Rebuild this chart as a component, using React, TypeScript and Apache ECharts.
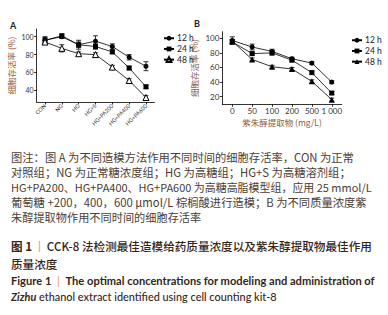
import React, { useEffect, useRef } from "react";
import * as echarts from "echarts";

// Panel A
const catsA = ["CON", "NG", "HG", "HG+S", "HG+PA200", "HG+PA400", "HG+PA600"];
const a12 = [96, 100, 91, 95, 89, 77, 67];
const a24 = [96, 101, 91, 89, 83, 65, 44];
const a48 = [94, 87, 81, 80, 66, 51, 32];
const a12Err = [4, 2, 5, 6, 3, 3, 5];
const a24Err = [3, 2, 3, 3, 2, 2, 2];
const a48Err = [2, 4, 2, 2, 2, 2, 2];
const ticksA = [40, 60, 80, 100];

// Panel B
const catsB = ["0", "50", "100", "200", "500", "1 000"];
const b12 = [97, 88, 82, 72, 66, 40];
const b24 = [95, 79, 80, 70, 53, 25];
const b48 = [96, 71, 61, 58, 41, 16];
const b12Err = [5, 4, 3, 2, 2, 2];
const b24Err = [3, 2, 3, 2, 2, 2];
const b48Err = [2, 2, 2, 2, 2, 2];
const ticksB = [20, 40, 60, 80, 100];

const seriesNames = ["12 h", "24 h", "48 h"];
const yTitle = "细胞存活率 (%)";
const xTitleB = "紫朱醇提取物 (mg/L)";

const noteLines = [
  "图注：图 A 为不同造模方法作用不同时间的细胞存活率，CON 为正常",
  "对照组；NG 为正常糖浓度组；HG 为高糖组；HG+S 为高糖溶剂组；",
  "HG+PA200、HG+PA400、HG+PA600 为高糖高脂模型组，应用 25 mmol/L",
  "葡萄糖 +200，400，600 μmol/L 棕榈酸进行造模；B 为不同质量浓度紫",
  "朱醇提取物作用不同时间的细胞存活率",
];
// target right edges of the justified lines (layout)
const noteRight = [375, 370, 372, 375, 0];

const CJK = '"Noto Sans CJK SC", "Noto Sans", sans-serif';
const LAT = 'Lato, "Noto Sans CJK SC", sans-serif';

function measure(text: string, size: number, family: string, weight = "normal", style = "normal") {
  const c = document.createElement("canvas").getContext("2d");
  if (!c) return text.length * size;
  c.font = `${style} ${weight} ${size}px ${family}`;
  return c.measureText(text).width;
}

function fitSize(text: string, target: number, family: string, base: number, lo: number, hi: number, weight = "normal") {
  const w = measure(text, base, family, weight);
  const s = (base * target) / w;
  return Math.max(lo, Math.min(hi, s));
}

function errSeries(name: string, vals: number[], errs: number[], axis: number) {
  return {
    name: name + "-err",
    type: "custom",
    xAxisIndex: axis,
    yAxisIndex: axis,
    z: 1,
    silent: true,
    data: vals.map((v, i) => [i, v - errs[i], v + errs[i]]),
    renderItem: (params: any, api: any) => {
      const lo = api.coord([api.value(0), api.value(1)]);
      const hi = api.coord([api.value(0), api.value(2)]);
      const w = 2.5;
      const st = { stroke: "#000", lineWidth: 0.8 };
      return {
        type: "group",
        children: [
          { type: "line", shape: { x1: lo[0], y1: lo[1], x2: hi[0], y2: hi[1] }, style: st },
          { type: "line", shape: { x1: hi[0] - w, y1: hi[1], x2: hi[0] + w, y2: hi[1] }, style: st },
          { type: "line", shape: { x1: lo[0] - w, y1: lo[1], x2: lo[0] + w, y2: lo[1] }, style: st },
        ],
      };
    },
  };
}

function lineSeries(name: string, vals: number[], axis: number, symbol: string, size: number, open = false) {
  return {
    name,
    type: "line",
    xAxisIndex: axis,
    yAxisIndex: axis,
    z: 3,
    data: vals,
    symbol,
    symbolSize: size,
    showAllSymbol: true,
    lineStyle: { color: "#000", width: 0.8 },
    itemStyle: open
      ? { color: "#fff", borderColor: "#000", borderWidth: 1 }
      : { color: "#000", borderColor: "#000", borderWidth: 0 },
    emphasis: { disabled: true },
  };
}

function xAxisBase(grid: number, data: string[], label: any) {
  return {
    type: "category",
    gridIndex: grid,
    data,
    boundaryGap: true,
    axisLine: { show: true, lineStyle: { color: "#000", width: 0.8 } },
    axisTick: { show: true, alignWithLabel: true, length: 2.5, lineStyle: { color: "#000", width: 0.8 } },
    axisLabel: Object.assign({ interval: 0, color: "#333" }, label),
    splitLine: { show: false },
  };
}

function yAxisBase(grid: number, min: number, max: number, ticks: number[], fs: number, gap: number) {
  return {
    type: "value",
    gridIndex: grid,
    min,
    max,
    axisLine: { show: true, lineStyle: { color: "#000", width: 0.8 } },
    axisTick: { show: true, length: 2.5, customValues: ticks, lineStyle: { color: "#000", width: 0.8 } },
    axisLabel: { customValues: ticks, fontSize: fs, color: "#333", margin: 3, fontFamily: LAT },
    splitLine: { show: false },
    name: yTitle,
    nameLocation: "middle",
    nameRotate: 90,
    nameGap: gap,
    nameTextStyle: { color: "#8a5a3c", fontSize: 8.5, fontFamily: CJK },
  };
}

export default function App() {
  const ref = useRef<HTMLDivElement>(null);
  useEffect(() => {
    document.body.style.margin = "0";
    if (!ref.current) return;
    const chart = echarts.init(ref.current, undefined, { renderer: "svg" });
    const legendCommon = {
      orient: "vertical",
      itemWidth: 10,
      itemHeight: 6,
      itemGap: 2.2,
      selectedMode: false,
      formatter: (n: string) => n.slice(2),
      textStyle: { fontSize: 8.5, color: "#222", lineHeight: 6.5, fontFamily: LAT, padding: [0, 0, 0, -2] },
    };
    const left = 11;
    const LH = 13.5;
    const noteTexts = noteLines.map((t, i) => {
      const fs = noteRight[i] ? fitSize(t, noteRight[i] - left, CJK, 11, 10.5, 11.3) : 11.2;
      return {
        type: "text",
        left,
        top: 157 + i * 15 - LH / 2,
        style: { text: t, fontSize: fs, lineHeight: LH, fill: "#4a3d33", fontFamily: CJK },
      };
    });
    const t1 = "图 1  |  CCK-8 法检测最佳造模给药质量浓度以及紫朱醇提取物最佳作用";
    const fsT1 = fitSize(t1, 364, CJK, 11, 10.5, 11.6, "500");
    const e1 = "Figure 1  |  The optimal concentrations for modeling and administration of";
    const fsE1 = fitSize(e1, 364, LAT, 11, 9.5, 12.5, "bold");
    const e2 = "Zizhu ethanol extract identified using cell counting kit-8";
    const fsE2 = fitSize(e2, 267, LAT, 11, 9.5, 12.5, "500");
    chart.setOption({
      animation: false,
      grid: [
        { left: 36.6, top: 29, width: 117.8, height: 73 },
        { left: 222.3, top: 31.7, width: 119.4, height: 72.6 },
      ],
      xAxis: [
        xAxisBase(0, catsA, { rotate: 45, fontSize: 5.5, margin: 3, fontFamily: LAT }),
        Object.assign(xAxisBase(1, catsB, { fontSize: 8, margin: 3, fontFamily: LAT }), {
          name: xTitleB,
          nameLocation: "middle",
          nameGap: 13,
          nameTextStyle: { color: "#8a5a3c", fontSize: 8.5, fontFamily: CJK },
        }),
      ],
      yAxis: [yAxisBase(0, 27, 108.6, ticksA, 7, 21), yAxisBase(1, 9.6, 109, ticksB, 8, 24)],
      legend: [
        Object.assign({}, legendCommon, {
          left: 158,
          top: 29,
          data: seriesNames.map((n) => "A:" + n),
        }),
        Object.assign({}, legendCommon, {
          left: 346,
          top: 31,
          data: seriesNames.map((n) => "B:" + n),
        }),
      ],
      series: [
        errSeries("A:12 h", a12, a12Err, 0),
        errSeries("A:24 h", a24, a24Err, 0),
        errSeries("A:48 h", a48, a48Err, 0),
        lineSeries("A:12 h", a12, 0, "circle", 5),
        lineSeries("A:24 h", a24, 0, "rect", 5),
        lineSeries("A:48 h", a48, 0, "triangle", 6, true),
        errSeries("B:12 h", b12, b12Err, 1),
        errSeries("B:24 h", b24, b24Err, 1),
        errSeries("B:48 h", b48, b48Err, 1),
        lineSeries("B:12 h", b12, 1, "circle", 5),
        lineSeries("B:24 h", b24, 1, "rect", 5),
        lineSeries("B:48 h", b48, 1, "triangle", 6),
      ],
      graphic: [
        { type: "text", left: 10, top: 21, style: { text: "A", fontSize: 9, fill: "#222", fontFamily: LAT, fontWeight: "bold" } },
        { type: "text", left: 194, top: 19, style: { text: "B", fontSize: 9, fill: "#222", fontFamily: LAT, fontWeight: "bold" } },
        ...noteTexts,
        {
          type: "text",
          left,
          top: 246.7 - LH / 2,
          style: {
            text: "{b|图 1}{o|  |  }{n|CCK-8 法检测最佳造模给药质量浓度以及紫朱醇提取物最佳作用}",
            rich: {
              b: { fontSize: fsT1, lineHeight: LH, fill: "#35261a", fontWeight: "bold", fontFamily: CJK },
              o: { fontSize: fsT1, lineHeight: LH, fill: "#e39a3b", fontFamily: LAT },
              n: { fontSize: fsT1, lineHeight: LH, fill: "#35261a", fontWeight: 500, fontFamily: CJK },
            },
          },
        },
        {
          type: "text",
          left,
          top: 264.3 - LH / 2,
          style: { text: "质量浓度", fontSize: fsT1, lineHeight: LH, fill: "#35261a", fontWeight: 500, fontFamily: CJK },
        },
        {
          type: "text",
          left,
          top: 281.7 - LH / 2,
          style: {
            text: "{b|Figure 1}{o|  |  }{b|The optimal concentrations for modeling and administration of}",
            rich: {
              b: { fontSize: fsE1, lineHeight: LH, fill: "#35261a", fontWeight: "bold", fontFamily: LAT },
              o: { fontSize: fsE1, lineHeight: LH, fill: "#e39a3b", fontFamily: LAT },
            },
          },
        },
        {
          type: "text",
          left,
          top: 297.7 - LH / 2,
          style: {
            text: "{i|Zizhu}{n| ethanol extract identified using cell counting kit-8}",
            rich: {
              i: { fontSize: fsE2, lineHeight: LH, fill: "#35261a", fontWeight: "bold", fontStyle: "italic", fontFamily: LAT },
              n: { fontSize: fsE2, lineHeight: LH, fill: "#35261a", fontWeight: 500, fontFamily: LAT },
            },
          },
        },
      ],
    });
    return () => chart.dispose();
  }, []);
  return <div ref={ref} style={{ width: 388, height: 315 }} />;
}
